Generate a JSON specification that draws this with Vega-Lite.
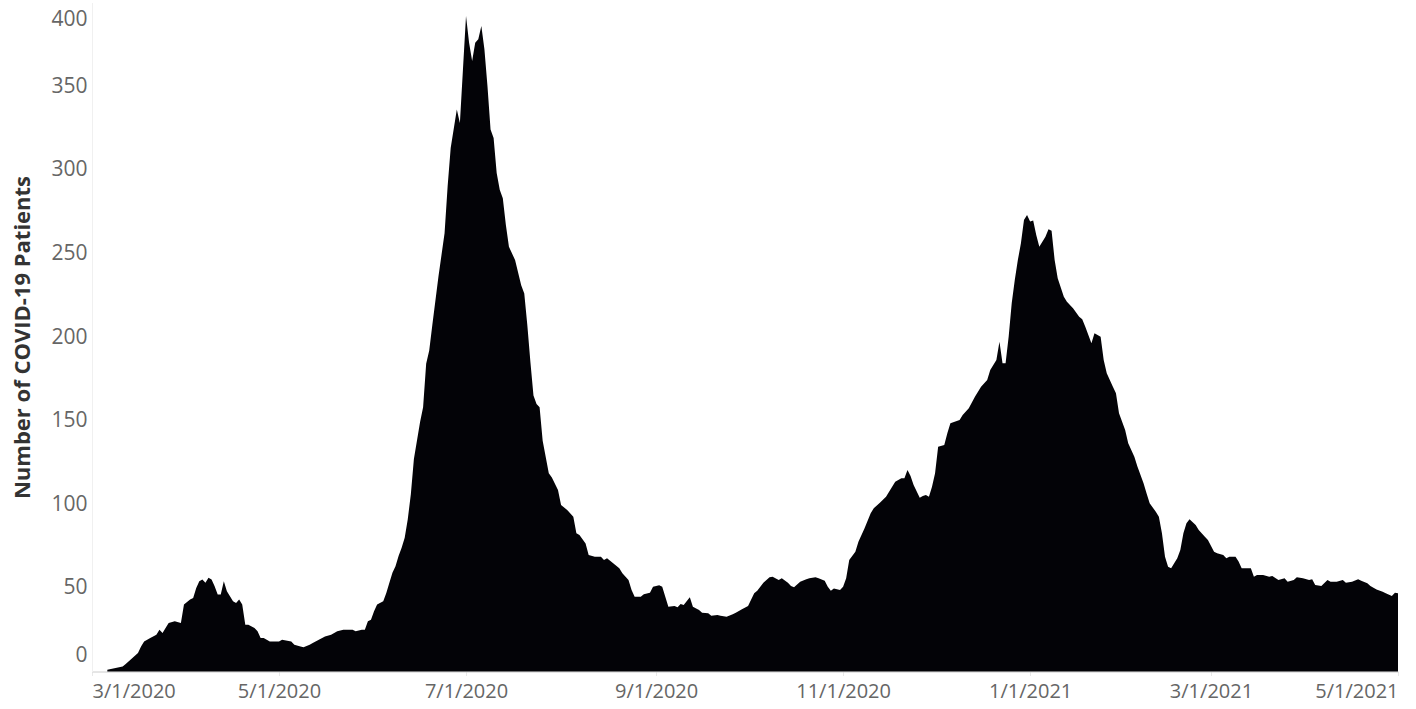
{
  "$schema": "https://vega.github.io/schema/vega-lite/v6.json",
  "autosize": "none",
  "width": 1306,
  "height": 669,
  "padding": {"left": 92, "top": 2.5, "right": 18, "bottom": 37.5},
  "background": "#ffffff",
  "config": {
    "view": {"stroke": null},
    "font": "Open Sans"
  },
  "data": {
    "values": [
      {"date": "2020-03-06", "patients": 1},
      {"date": "2020-03-11", "patients": 3},
      {"date": "2020-03-12", "patients": 4.5},
      {"date": "2020-03-16", "patients": 11},
      {"date": "2020-03-17", "patients": 15},
      {"date": "2020-03-18", "patients": 18},
      {"date": "2020-03-20", "patients": 20},
      {"date": "2020-03-22", "patients": 22},
      {"date": "2020-03-23", "patients": 25},
      {"date": "2020-03-24", "patients": 23},
      {"date": "2020-03-25", "patients": 26},
      {"date": "2020-03-26", "patients": 29},
      {"date": "2020-03-28", "patients": 30},
      {"date": "2020-03-30", "patients": 29},
      {"date": "2020-03-31", "patients": 40},
      {"date": "2020-04-02", "patients": 43},
      {"date": "2020-04-03", "patients": 44},
      {"date": "2020-04-04", "patients": 50},
      {"date": "2020-04-05", "patients": 54},
      {"date": "2020-04-06", "patients": 55},
      {"date": "2020-04-07", "patients": 53},
      {"date": "2020-04-08", "patients": 56},
      {"date": "2020-04-09", "patients": 55},
      {"date": "2020-04-10", "patients": 51},
      {"date": "2020-04-11", "patients": 46},
      {"date": "2020-04-12", "patients": 46},
      {"date": "2020-04-13", "patients": 54},
      {"date": "2020-04-14", "patients": 48},
      {"date": "2020-04-16", "patients": 42},
      {"date": "2020-04-17", "patients": 41},
      {"date": "2020-04-18", "patients": 43},
      {"date": "2020-04-19", "patients": 40},
      {"date": "2020-04-20", "patients": 28},
      {"date": "2020-04-21", "patients": 28},
      {"date": "2020-04-23", "patients": 26},
      {"date": "2020-04-24", "patients": 24},
      {"date": "2020-04-25", "patients": 20},
      {"date": "2020-04-26", "patients": 20},
      {"date": "2020-04-28", "patients": 18},
      {"date": "2020-04-29", "patients": 18},
      {"date": "2020-05-01", "patients": 18},
      {"date": "2020-05-02", "patients": 19},
      {"date": "2020-05-05", "patients": 18},
      {"date": "2020-05-06", "patients": 16},
      {"date": "2020-05-08", "patients": 15},
      {"date": "2020-05-09", "patients": 14.5},
      {"date": "2020-05-11", "patients": 16},
      {"date": "2020-05-12", "patients": 17},
      {"date": "2020-05-14", "patients": 19},
      {"date": "2020-05-16", "patients": 21},
      {"date": "2020-05-18", "patients": 22},
      {"date": "2020-05-20", "patients": 24},
      {"date": "2020-05-22", "patients": 25},
      {"date": "2020-05-23", "patients": 25},
      {"date": "2020-05-25", "patients": 25},
      {"date": "2020-05-26", "patients": 24},
      {"date": "2020-05-28", "patients": 25},
      {"date": "2020-05-29", "patients": 25},
      {"date": "2020-05-30", "patients": 30},
      {"date": "2020-05-31", "patients": 31},
      {"date": "2020-06-01", "patients": 36},
      {"date": "2020-06-02", "patients": 40},
      {"date": "2020-06-04", "patients": 42},
      {"date": "2020-06-05", "patients": 47},
      {"date": "2020-06-06", "patients": 53},
      {"date": "2020-06-07", "patients": 59},
      {"date": "2020-06-08", "patients": 63},
      {"date": "2020-06-09", "patients": 69},
      {"date": "2020-06-10", "patients": 74},
      {"date": "2020-06-11", "patients": 80},
      {"date": "2020-06-12", "patients": 91},
      {"date": "2020-06-13", "patients": 106},
      {"date": "2020-06-14", "patients": 127},
      {"date": "2020-06-16", "patients": 149},
      {"date": "2020-06-17", "patients": 158},
      {"date": "2020-06-18", "patients": 184},
      {"date": "2020-06-19", "patients": 192},
      {"date": "2020-06-20", "patients": 207},
      {"date": "2020-06-22", "patients": 236},
      {"date": "2020-06-23", "patients": 249},
      {"date": "2020-06-24", "patients": 262},
      {"date": "2020-06-25", "patients": 290},
      {"date": "2020-06-26", "patients": 313},
      {"date": "2020-06-28", "patients": 336},
      {"date": "2020-06-29", "patients": 328},
      {"date": "2020-06-30", "patients": 360},
      {"date": "2020-07-01", "patients": 392},
      {"date": "2020-07-02", "patients": 376},
      {"date": "2020-07-03", "patients": 365},
      {"date": "2020-07-04", "patients": 376},
      {"date": "2020-07-05", "patients": 378},
      {"date": "2020-07-06", "patients": 386},
      {"date": "2020-07-07", "patients": 372},
      {"date": "2020-07-08", "patients": 350},
      {"date": "2020-07-09", "patients": 324},
      {"date": "2020-07-10", "patients": 319},
      {"date": "2020-07-11", "patients": 298},
      {"date": "2020-07-12", "patients": 288},
      {"date": "2020-07-13", "patients": 283},
      {"date": "2020-07-14", "patients": 267},
      {"date": "2020-07-15", "patients": 254},
      {"date": "2020-07-17", "patients": 246},
      {"date": "2020-07-19", "patients": 231},
      {"date": "2020-07-20", "patients": 226},
      {"date": "2020-07-21", "patients": 207},
      {"date": "2020-07-22", "patients": 185},
      {"date": "2020-07-23", "patients": 165},
      {"date": "2020-07-24", "patients": 160},
      {"date": "2020-07-25", "patients": 158},
      {"date": "2020-07-26", "patients": 138},
      {"date": "2020-07-28", "patients": 118.5},
      {"date": "2020-07-29", "patients": 116},
      {"date": "2020-07-31", "patients": 108.5},
      {"date": "2020-08-01", "patients": 99.5},
      {"date": "2020-08-03", "patients": 96.6},
      {"date": "2020-08-05", "patients": 92.6},
      {"date": "2020-08-06", "patients": 82.6},
      {"date": "2020-08-07", "patients": 81.6},
      {"date": "2020-08-09", "patients": 76.6},
      {"date": "2020-08-10", "patients": 69.7},
      {"date": "2020-08-12", "patients": 68.6},
      {"date": "2020-08-14", "patients": 68.6},
      {"date": "2020-08-15", "patients": 66.7},
      {"date": "2020-08-16", "patients": 67.7},
      {"date": "2020-08-18", "patients": 64.7},
      {"date": "2020-08-20", "patients": 61.7},
      {"date": "2020-08-21", "patients": 58.7},
      {"date": "2020-08-23", "patients": 54.7},
      {"date": "2020-08-24", "patients": 48.7},
      {"date": "2020-08-25", "patients": 44.7},
      {"date": "2020-08-27", "patients": 44.7},
      {"date": "2020-08-28", "patients": 46.2},
      {"date": "2020-08-30", "patients": 47.1},
      {"date": "2020-08-31", "patients": 50.7},
      {"date": "2020-09-02", "patients": 51.5},
      {"date": "2020-09-03", "patients": 50.7},
      {"date": "2020-09-04", "patients": 44.7},
      {"date": "2020-09-05", "patients": 38.7},
      {"date": "2020-09-07", "patients": 39.2},
      {"date": "2020-09-08", "patients": 38.4},
      {"date": "2020-09-09", "patients": 40.4},
      {"date": "2020-09-10", "patients": 39.8},
      {"date": "2020-09-12", "patients": 44.4},
      {"date": "2020-09-13", "patients": 38.7},
      {"date": "2020-09-15", "patients": 36.8},
      {"date": "2020-09-16", "patients": 35.2},
      {"date": "2020-09-18", "patients": 34.8},
      {"date": "2020-09-19", "patients": 33.4},
      {"date": "2020-09-21", "patients": 33.8},
      {"date": "2020-09-22", "patients": 33.4},
      {"date": "2020-09-24", "patients": 32.8},
      {"date": "2020-09-26", "patients": 34.2},
      {"date": "2020-09-27", "patients": 35.2},
      {"date": "2020-09-29", "patients": 37.2},
      {"date": "2020-10-01", "patients": 39.2},
      {"date": "2020-10-03", "patients": 46.8},
      {"date": "2020-10-04", "patients": 48.3},
      {"date": "2020-10-06", "patients": 53.1},
      {"date": "2020-10-08", "patients": 56.3},
      {"date": "2020-10-09", "patients": 56.7},
      {"date": "2020-10-11", "patients": 54.7},
      {"date": "2020-10-12", "patients": 55.7},
      {"date": "2020-10-14", "patients": 53.1},
      {"date": "2020-10-15", "patients": 51.1},
      {"date": "2020-10-16", "patients": 50.3},
      {"date": "2020-10-18", "patients": 53.7},
      {"date": "2020-10-20", "patients": 55.1},
      {"date": "2020-10-21", "patients": 55.7},
      {"date": "2020-10-23", "patients": 56.3},
      {"date": "2020-10-24", "patients": 55.7},
      {"date": "2020-10-26", "patients": 54.3},
      {"date": "2020-10-27", "patients": 50.7},
      {"date": "2020-10-28", "patients": 48.3},
      {"date": "2020-10-29", "patients": 49.7},
      {"date": "2020-10-31", "patients": 48.7},
      {"date": "2020-11-01", "patients": 50.7},
      {"date": "2020-11-02", "patients": 55.7},
      {"date": "2020-11-03", "patients": 66.7},
      {"date": "2020-11-05", "patients": 71.6},
      {"date": "2020-11-06", "patients": 77.6},
      {"date": "2020-11-08", "patients": 85.6},
      {"date": "2020-11-10", "patients": 94.6},
      {"date": "2020-11-11", "patients": 97.6},
      {"date": "2020-11-13", "patients": 100.9},
      {"date": "2020-11-15", "patients": 104.5},
      {"date": "2020-11-16", "patients": 107.5},
      {"date": "2020-11-18", "patients": 113.5},
      {"date": "2020-11-20", "patients": 115.5},
      {"date": "2020-11-21", "patients": 115.5},
      {"date": "2020-11-22", "patients": 120.5},
      {"date": "2020-11-23", "patients": 116.9},
      {"date": "2020-11-24", "patients": 111.5},
      {"date": "2020-11-26", "patients": 103.9},
      {"date": "2020-11-27", "patients": 104.9},
      {"date": "2020-11-28", "patients": 105.5},
      {"date": "2020-11-29", "patients": 104.5},
      {"date": "2020-11-30", "patients": 110.5},
      {"date": "2020-12-01", "patients": 118.5},
      {"date": "2020-12-02", "patients": 134.4},
      {"date": "2020-12-04", "patients": 135.4},
      {"date": "2020-12-05", "patients": 142.4},
      {"date": "2020-12-06", "patients": 148.4},
      {"date": "2020-12-09", "patients": 150.4},
      {"date": "2020-12-10", "patients": 153.4},
      {"date": "2020-12-12", "patients": 157.4},
      {"date": "2020-12-14", "patients": 164.3},
      {"date": "2020-12-16", "patients": 170.3},
      {"date": "2020-12-18", "patients": 174.3},
      {"date": "2020-12-19", "patients": 180.3},
      {"date": "2020-12-21", "patients": 186.3},
      {"date": "2020-12-22", "patients": 197.2},
      {"date": "2020-12-23", "patients": 184.3},
      {"date": "2020-12-24", "patients": 184.3},
      {"date": "2020-12-25", "patients": 200.2},
      {"date": "2020-12-26", "patients": 220.2},
      {"date": "2020-12-27", "patients": 234.1},
      {"date": "2020-12-28", "patients": 246},
      {"date": "2020-12-29", "patients": 256},
      {"date": "2020-12-30", "patients": 270},
      {"date": "2020-12-31", "patients": 273},
      {"date": "2021-01-01", "patients": 269},
      {"date": "2021-01-02", "patients": 269.6},
      {"date": "2021-01-03", "patients": 261},
      {"date": "2021-01-04", "patients": 254},
      {"date": "2021-01-06", "patients": 260},
      {"date": "2021-01-07", "patients": 264.4},
      {"date": "2021-01-08", "patients": 263.6},
      {"date": "2021-01-09", "patients": 246},
      {"date": "2021-01-10", "patients": 235.1},
      {"date": "2021-01-12", "patients": 224.1},
      {"date": "2021-01-13", "patients": 221.1},
      {"date": "2021-01-15", "patients": 217.2},
      {"date": "2021-01-17", "patients": 212.1},
      {"date": "2021-01-18", "patients": 210.6},
      {"date": "2021-01-19", "patients": 206.2},
      {"date": "2021-01-21", "patients": 196.2},
      {"date": "2021-01-22", "patients": 202.2},
      {"date": "2021-01-24", "patients": 200.2},
      {"date": "2021-01-25", "patients": 186.3},
      {"date": "2021-01-26", "patients": 178.3},
      {"date": "2021-01-28", "patients": 170.3},
      {"date": "2021-01-29", "patients": 166.3},
      {"date": "2021-01-30", "patients": 154.4},
      {"date": "2021-02-01", "patients": 144.4},
      {"date": "2021-02-02", "patients": 136.4},
      {"date": "2021-02-04", "patients": 128.4},
      {"date": "2021-02-05", "patients": 122.5},
      {"date": "2021-02-07", "patients": 112.5},
      {"date": "2021-02-08", "patients": 106.5},
      {"date": "2021-02-09", "patients": 100.6},
      {"date": "2021-02-11", "patients": 95.5},
      {"date": "2021-02-12", "patients": 92.6},
      {"date": "2021-02-13", "patients": 82.6},
      {"date": "2021-02-14", "patients": 68.6},
      {"date": "2021-02-15", "patients": 62.7},
      {"date": "2021-02-16", "patients": 61.7},
      {"date": "2021-02-17", "patients": 64.7},
      {"date": "2021-02-18", "patients": 67.7},
      {"date": "2021-02-19", "patients": 72.6},
      {"date": "2021-02-20", "patients": 82.6},
      {"date": "2021-02-21", "patients": 88.6},
      {"date": "2021-02-22", "patients": 91},
      {"date": "2021-02-24", "patients": 87.6},
      {"date": "2021-02-25", "patients": 84.6},
      {"date": "2021-02-27", "patients": 80.6},
      {"date": "2021-02-28", "patients": 78.6},
      {"date": "2021-03-02", "patients": 71.6},
      {"date": "2021-03-03", "patients": 70.7},
      {"date": "2021-03-05", "patients": 69.7},
      {"date": "2021-03-06", "patients": 67.7},
      {"date": "2021-03-07", "patients": 68.6},
      {"date": "2021-03-09", "patients": 68.6},
      {"date": "2021-03-10", "patients": 65.7},
      {"date": "2021-03-11", "patients": 61.7},
      {"date": "2021-03-13", "patients": 61.7},
      {"date": "2021-03-14", "patients": 61.7},
      {"date": "2021-03-15", "patients": 56.7},
      {"date": "2021-03-16", "patients": 57.7},
      {"date": "2021-03-18", "patients": 57.7},
      {"date": "2021-03-20", "patients": 56.7},
      {"date": "2021-03-21", "patients": 57.1},
      {"date": "2021-03-23", "patients": 54.7},
      {"date": "2021-03-25", "patients": 55.7},
      {"date": "2021-03-26", "patients": 53.7},
      {"date": "2021-03-28", "patients": 54.7},
      {"date": "2021-03-29", "patients": 56.3},
      {"date": "2021-03-31", "patients": 55.7},
      {"date": "2021-04-02", "patients": 54.7},
      {"date": "2021-04-03", "patients": 55.1},
      {"date": "2021-04-04", "patients": 51.7},
      {"date": "2021-04-06", "patients": 51.1},
      {"date": "2021-04-08", "patients": 54.7},
      {"date": "2021-04-09", "patients": 53.7},
      {"date": "2021-04-11", "patients": 53.7},
      {"date": "2021-04-13", "patients": 54.7},
      {"date": "2021-04-14", "patients": 53.1},
      {"date": "2021-04-16", "patients": 53.7},
      {"date": "2021-04-18", "patients": 55.1},
      {"date": "2021-04-19", "patients": 54.3},
      {"date": "2021-04-21", "patients": 52.7},
      {"date": "2021-04-22", "patients": 51.1},
      {"date": "2021-04-24", "patients": 49.1},
      {"date": "2021-04-26", "patients": 47.7},
      {"date": "2021-04-27", "patients": 46.8},
      {"date": "2021-04-29", "patients": 45.1},
      {"date": "2021-04-30", "patients": 47.1},
      {"date": "2021-05-01", "patients": 46.8}
    ]
  },
  "mark": {"type": "area", "color": "#030307", "interpolate": "linear", "opacity": 1},
  "encoding": {
    "x": {
      "field": "date",
      "type": "temporal",
      "scale": {
        "type": "utc",
        "domain": [
          {"year": 2020, "month": 3, "date": 1, "utc": true},
          {"year": 2021, "month": 5, "date": 1, "utc": true}
        ],
        "nice": false
      },
      "axis": {
        "title": null,
        "grid": false,
        "values": [
          {"year": 2020, "month": 3, "date": 1, "utc": true},
          {"year": 2020, "month": 5, "date": 1, "utc": true},
          {"year": 2020, "month": 7, "date": 1, "utc": true},
          {"year": 2020, "month": 9, "date": 1, "utc": true},
          {"year": 2020, "month": 11, "date": 1, "utc": true},
          {"year": 2021, "month": 1, "date": 1, "utc": true},
          {"year": 2021, "month": 3, "date": 1, "utc": true},
          {"year": 2021, "month": 5, "date": 1, "utc": true}
        ],
        "labelExpr": "utcFormat(datum.value, '%-m/%-d/%Y')",
        "labelFlush": true,
        "labelFont": "Open Sans",
        "labelFontSize": 20,
        "labelColor": "#666666",
        "labelPadding": 6,
        "tickSize": 4,
        "tickColor": "#e8e8e8",
        "domainColor": "#cccccc",
        "labelOverlap": false
      }
    },
    "y": {
      "field": "patients",
      "type": "quantitative",
      "scale": {"domain": [0, 400], "nice": false, "zero": true},
      "axis": {
        "title": "Number of COVID-19 Patients",
        "titleFont": "Open Sans",
        "titleFontWeight": "bold",
        "titleFontSize": 22,
        "titleColor": "#333333",
        "titleAngle": -90,
        "titleX": -70,
        "titleY": 334.5,
        "titleAlign": "center",
        "titleBaseline": "middle",
        "grid": false,
        "values": [0, 50, 100, 150, 200, 250, 300, 350, 400],
        "labelFlush": true,
        "labelFlushOffset": -6,
        "labelFont": "Open Sans",
        "labelFontSize": 21,
        "labelColor": "#666666",
        "labelPadding": 5,
        "ticks": false,
        "domainColor": "#f0f0f0"
      }
    }
  }
}
